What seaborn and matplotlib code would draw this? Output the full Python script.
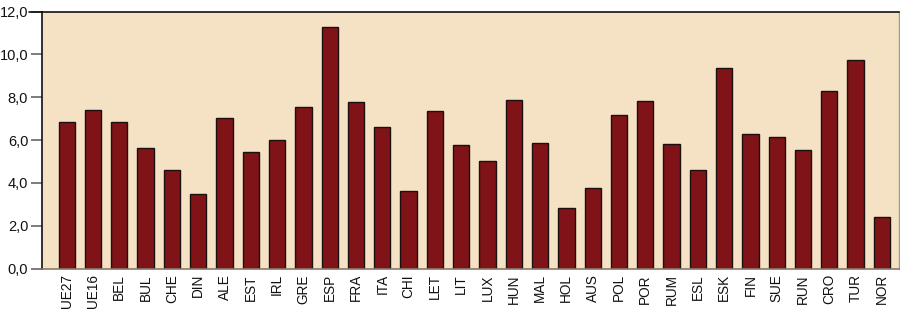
import matplotlib
matplotlib.use("Agg")
import matplotlib.pyplot as plt
import seaborn as sns
import pandas as pd

categories = ["UE27", "UE16", "BEL", "BUL", "CHE", "DIN", "ALE", "EST", "IRL", "GRE",
              "ESP", "FRA", "ITA", "CHI", "LET", "LIT", "LUX", "HUN", "MAL", "HOL",
              "AUS", "POL", "POR", "RUM", "ESL", "ESK", "FIN", "SUE", "RUN", "CRO",
              "TUR", "NOR"]
values = [6.82, 7.38, 6.83, 5.63, 4.59, 3.48, 7.03, 5.44, 5.99, 7.54,
          11.28, 7.78, 6.61, 3.62, 7.36, 5.77, 5.02, 7.87, 5.86, 2.83,
          3.75, 7.17, 7.82, 5.82, 4.60, 9.37, 6.28, 6.14, 5.54, 8.29,
          9.74, 2.41]
y_ticks = [0, 2, 4, 6, 8, 10, 12]
y_tick_labels = ["0,0", "2,0", "4,0", "6,0", "8,0", "10,0", "12,0"]

sns.set_theme(style="white")
plt.rcParams["font.family"] = ["Liberation Sans", "DejaVu Sans"]

df = pd.DataFrame({"cat": categories, "val": values})

fig = plt.figure(figsize=(9, 3.12), dpi=100)
ax = fig.add_axes([0.0467, 0.1394, 0.9522, 0.8236])
ax.set_facecolor("#f5e1c3")

sns.barplot(data=df, x="cat", y="val", color="#7f1318", width=0.62,
            edgecolor="#1a1010", linewidth=1.0, saturation=1, ax=ax)

ax.set_xlim(-0.94, 31.65)
ax.set_ylim(0, 12)
ax.set_yticks(y_ticks)
ax.set_yticklabels(y_tick_labels, fontsize=10.5, color="#111111")
ax.tick_params(axis="y", direction="out", length=8, width=1.2, color="#666666", pad=2, left=True)
ax.tick_params(axis="x", length=0, pad=4)
plt.setp(ax.get_xticklabels(), rotation=90, fontsize=9.8, color="#111111")
ax.set_xlabel("")
ax.set_ylabel("")

for s in ["left", "top"]:
    ax.spines[s].set_visible(True)
    ax.spines[s].set_color("#111111")
    ax.spines[s].set_linewidth(1.2)
ax.spines["right"].set_visible(True)
ax.spines["right"].set_color("#9a9a9a")
ax.spines["right"].set_linewidth(1.0)
ax.spines["bottom"].set_visible(True)
ax.spines["bottom"].set_color("#8a7a6a")
ax.spines["bottom"].set_linewidth(1.2)
# top line extends left like the reference
ax.plot([-0.94 - 0.5, -0.94], [12, 12], color="#111111", lw=1.2, clip_on=False)

fig.savefig("out.png", dpi=100)
